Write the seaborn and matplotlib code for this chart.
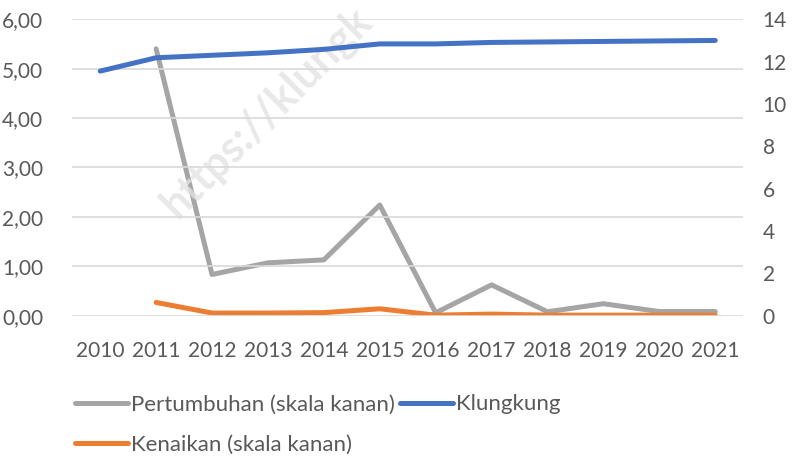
import matplotlib
matplotlib.use('Agg')
import matplotlib.pyplot as plt
import seaborn as sns
import pandas as pd
from matplotlib.lines import Line2D
from matplotlib.ticker import FuncFormatter

years = list(range(2010, 2022))
klungkung = [4.95, 5.22, 5.27, 5.32, 5.39, 5.50, 5.50, 5.53, 5.54, 5.55, 5.56, 5.57]
pertumbuhan = [None, 12.6, 1.95, 2.5, 2.64, 5.23, 0.14, 1.46, 0.19, 0.57, 0.2, 0.2]
kenaikan = [None, 0.63, 0.13, 0.13, 0.15, 0.33, 0.03, 0.08, 0.03, 0.03, 0.03, 0.03]

df = pd.DataFrame({'Tahun': years, 'Klungkung': klungkung,
                   'Pertumbuhan': pertumbuhan, 'Kenaikan': kenaikan})

sns.set_style('white')
plt.rcParams['font.family'] = ['Lato', 'DejaVu Sans']

c_grey = '#A5A5A5'
c_blue = '#4472C4'
c_orange = '#ED7D31'
txt = '#595959'
lw = 3.6
fs = 15

fig = plt.figure(figsize=(7.94, 4.57), dpi=100)
ax = fig.add_axes([0.091, 0.309, 0.845, 0.649])
ax2 = ax.twinx()

sns.lineplot(data=df, x='Tahun', y='Klungkung', ax=ax, color=c_blue, lw=lw,
             solid_capstyle='round', zorder=3)
sns.lineplot(data=df, x='Tahun', y='Pertumbuhan', ax=ax2, color=c_grey, lw=lw,
             solid_capstyle='round')
sns.lineplot(data=df, x='Tahun', y='Kenaikan', ax=ax2, color=c_orange, lw=lw,
             solid_capstyle='round')

ax.set_zorder(ax2.get_zorder() + 1)
ax.patch.set_visible(False)

ax.set_xlim(2009.5, 2021.5)
ax.set_ylim(0, 6)
ax.set_yticks(range(0, 7))
ax.yaxis.set_major_formatter(FuncFormatter(lambda v, p: f'{v:.2f}'.replace('.', ',')))
ax2.set_ylim(0, 14)
ax2.set_yticks(range(0, 15, 2))
ax.set_xticks(years)

ax.grid(axis='y', color='#D9D9D9', lw=1.2)
for a in (ax, ax2):
    for s in a.spines.values():
        s.set_visible(False)
    a.set_xlabel('')
    a.set_ylabel('')
    a.tick_params(length=0, labelsize=fs, colors=txt)
ax.tick_params(axis='x', pad=18)
ax.tick_params(axis='y', pad=21)
ax2.tick_params(axis='y', pad=14)
for lab in ax2.get_yticklabels():
    lab.set_horizontalalignment('left')

# watermark
fig.text(0.335, 0.755, 'https://klungk', rotation=45, fontsize=31,
         color='#E3E3E3', alpha=0.8, fontweight='bold', ha='center', va='center',
         zorder=0)

handles = [Line2D([], [], color=c_grey, lw=lw, solid_capstyle='round'),
           Line2D([], [], color=c_orange, lw=lw, solid_capstyle='round'),
           Line2D([], [], color=c_blue, lw=lw, solid_capstyle='round')]
labels = ['Pertumbuhan (skala kanan)', 'Kenaikan (skala kanan)', 'Klungkung']
leg = fig.legend(handles, labels, ncol=2, loc='upper left', bbox_to_anchor=(0.094, 0.137),
                 frameon=False, fontsize=16, handlelength=2.4, handletextpad=0.15,
                 columnspacing=0.2, labelspacing=0.9, labelcolor=txt,
                 borderaxespad=0, borderpad=0)

fig.savefig('out.png', dpi=100)
